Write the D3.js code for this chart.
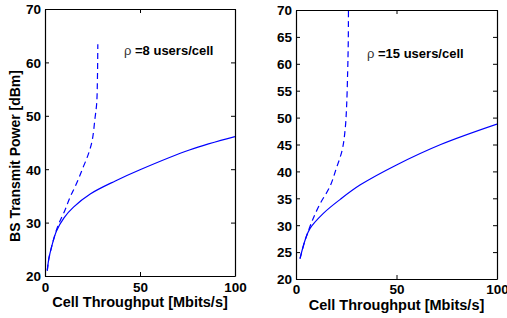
<!DOCTYPE html>
<html>
<head>
<meta charset="utf-8">
<script src="https://cdn.jsdelivr.net/npm/d3@7"></script>
<style>
  body { margin: 0; background: #fff; }
  svg { display: block; }
  text { font-family: "Liberation Sans", Arial, Helvetica, sans-serif; font-weight: bold; fill: #000; }
</style>
</head>
<body>
<svg id="chart" width="507" height="318"></svg>
<script>
// ---- Data ----
const xTicks = [0, 50, 100];
const yTicksLeft = [20, 30, 40, 50, 60, 70];
const yTicksRight = [20, 25, 30, 35, 40, 45, 50, 55, 60, 65, 70];

// rho = 8 users/cell
const solid8X = [1.2, 2, 3.5, 6, 10, 15, 24, 37, 50, 76, 100];
const solid8Y = [21, 23.2, 25.5, 28.4, 30.9, 32.9, 35.4, 37.8, 39.9, 43.6, 46.1];
const dash8X = [1.2, 2, 3.5, 6, 8, 10.5, 13, 16.7, 20, 23, 24.9, 26.3, 27.2, 27.6, 27.8];
const dash8Y = [21, 23.2, 25.5, 28.6, 30.4, 32.3, 34.6, 37.4, 40.3, 43, 45.5, 49.5, 52.3, 57, 63.4];

// rho = 15 users/cell
const solid15X = [2, 4.5, 7, 13.6, 22, 32, 50, 72, 100];
const solid15Y = [23.8, 27.2, 29.4, 32.2, 34.8, 37.5, 41.2, 45.0, 48.8];
const dash15X = [2, 4.5, 6.5, 8.6, 12, 16.9, 20, 23, 24.5, 25.2, 25.7, 26, 26.1];
const dash15Y = [23.8, 27.2, 29.3, 31.3, 34, 37.2, 40.5, 44, 48, 52.3, 58.5, 64, 70];

const panelLabels = ["=8 users/cell", "=15 users/cell"];
const xLabel = "Cell Throughput [Mbits/s]";
const yLabel = "BS Transmit Power [dBm]";

// ---- Drawing ----
const svg = d3.select("#chart");
const lineColor = "#0000ff";

function zip(xs, ys) { return xs.map((x, i) => [x, ys[i]]); }

const panels = [
  { id: "p8", left: 45, right: 235, top: 9, bottom: 276, yTicks: yTicksLeft,
    solid: zip(solid8X, solid8Y), dash: zip(dash8X, dash8Y),
    label: panelLabels[0], labelX: 124, labelY: 55, showY: true, xLabelY: 306.5, xTickY: 291.5 },
  { id: "p15", left: 296, right: 497, top: 10, bottom: 279, yTicks: yTicksRight,
    solid: zip(solid15X, solid15Y), dash: zip(dash15X, dash15Y),
    label: panelLabels[1], labelX: 367, labelY: 58, showY: false, xLabelY: 309.5, xTickY: 294 }
];

panels.forEach(p => {
  const x = d3.scaleLinear().domain([0, 100]).range([p.left, p.right]);
  const y = d3.scaleLinear().domain([20, 70]).range([p.bottom, p.top]);
  const g = svg.append("g");

  g.append("clipPath").attr("id", "clip-" + p.id)
    .append("rect").attr("x", p.left).attr("y", p.top)
    .attr("width", p.right - p.left).attr("height", p.bottom - p.top);

  const line = d3.line().x(d => x(d[0])).y(d => y(d[1])).curve(d3.curveCatmullRom.alpha(0.5));
  const lg = g.append("g").attr("clip-path", `url(#clip-${p.id})`);
  lg.append("path").attr("d", line(p.solid)).attr("fill", "none")
    .attr("stroke", lineColor).attr("stroke-width", 1.2);
  lg.append("path").attr("d", line(p.dash)).attr("fill", "none")
    .attr("stroke", lineColor).attr("stroke-width", 1.2).attr("stroke-dasharray", "6,4");

  // axes (inward ticks, box)
  const tickLen = 4;
  const axB = d3.axisBottom(x).tickValues(xTicks).tickSizeInner(-tickLen).tickSizeOuter(0).tickPadding(7);
  const axT = d3.axisTop(x).tickValues(xTicks).tickSizeInner(-tickLen).tickSizeOuter(0).tickFormat("");
  const axL = d3.axisLeft(y).tickValues(p.yTicks).tickSizeInner(-tickLen).tickSizeOuter(0).tickPadding(4);
  const axR = d3.axisRight(y).tickValues(p.yTicks).tickSizeInner(-tickLen).tickSizeOuter(0).tickFormat("");

  const gB = g.append("g").attr("transform", `translate(0,${p.bottom})`).call(axB);
  const gT = g.append("g").attr("transform", `translate(0,${p.top})`).call(axT);
  const gL = g.append("g").attr("transform", `translate(${p.left},0)`).call(axL);
  const gR = g.append("g").attr("transform", `translate(${p.right},0)`).call(axR);
  [gB, gT, gL, gR].forEach(a => {
    a.select(".domain").attr("stroke", "#000").attr("stroke-width", 1.2);
    a.selectAll(".tick line").attr("stroke", "#000").attr("stroke-width", 1);
    a.selectAll("text").attr("font-size", 13.5).attr("font-weight", "bold")
      .attr("font-family", '"Liberation Sans", Arial, sans-serif').attr("fill", "#000");
  });
  gB.selectAll(".tick text").attr("dy", null).attr("y", null)
    .attr("transform", `translate(0,${p.xTickY - p.bottom})`);
  gL.selectAll(".tick text").attr("dy", "0.36em");

  // annotation
  const t = g.append("text").attr("x", p.labelX).attr("y", p.labelY).attr("font-size", 13);
  t.append("tspan").attr("font-weight", "normal").attr("fill", "#333").text("ρ ");
  t.append("tspan").text(p.label);

  // x label
  g.append("text").attr("x", (p.left + p.right) / 2).attr("y", p.xLabelY)
    .attr("text-anchor", "middle").attr("font-size", 14.5).text(xLabel);

  if (p.showY) {
    g.append("text").attr("transform", `translate(20,156) rotate(-90)`)
      .attr("text-anchor", "middle").attr("font-size", 14).text(yLabel);
  }
});
</script>
</body>
</html>
